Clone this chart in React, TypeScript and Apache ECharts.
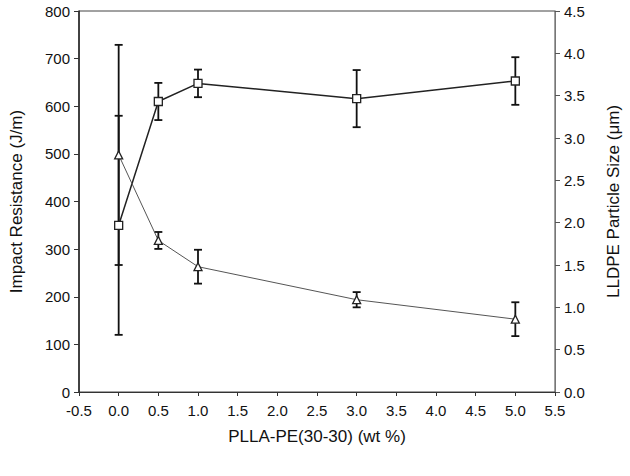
import React, { useEffect, useRef } from "react";
import * as echarts from "echarts";

const xValues = [0, 0.5, 1.0, 3.0, 5.0];
const impactResistance = [350, 610, 648, 616, 653];
const impactError = [230, 39, 29, 60, 50];
const particleSize = [2.8, 1.79, 1.48, 1.09, 0.86];
const particleError = [1.3, 0.1, 0.2, 0.09, 0.2];

const FONT = "Liberation Sans";

function errorItem(params: any, api: any) {
  const x = api.value(0);
  const lo = api.value(1);
  const hi = api.value(2);
  const pLo = api.coord([x, lo]);
  const pHi = api.coord([x, hi]);
  const hw = 4;
  const st = { stroke: "#111", lineWidth: 1.8 };
  return {
    type: "group",
    children: [
      { type: "line", shape: { x1: pLo[0], y1: pLo[1], x2: pHi[0], y2: pHi[1] }, style: st },
      { type: "line", shape: { x1: pLo[0] - hw, y1: pLo[1], x2: pLo[0] + hw, y2: pLo[1] }, style: st },
      { type: "line", shape: { x1: pHi[0] - hw, y1: pHi[1], x2: pHi[0] + hw, y2: pHi[1] }, style: st },
    ],
  };
}

export default function App() {
  const ref = useRef<HTMLDivElement>(null);
  useEffect(() => {
    if (!ref.current) return;
    const chart = echarts.init(ref.current, undefined, { renderer: "svg" });
    const fmt1 = (v: number) => v.toFixed(1);
    const axisLabelStyle = { fontFamily: FONT, fontSize: 15, color: "#111" };
    const titleStyle = { fontFamily: FONT, fontSize: 17, color: "#111" };
    chart.setOption({
      animation: false,
      backgroundColor: "#fff",
      grid: {
        left: 76,
        right: 75,
        top: 11,
        bottom: 84,
        show: true,
        borderColor: "#444",
        borderWidth: 1,
        backgroundColor: "transparent",
      },
      xAxis: {
        type: "value",
        min: -0.5,
        max: 5.5,
        interval: 0.5,
        name: "PLLA-PE(30-30) (wt %)",
        nameLocation: "middle",
        nameGap: 36,
        nameTextStyle: titleStyle,
        axisLine: { show: true, onZero: false, lineStyle: { color: "#333", width: 1 } },
        axisTick: { show: true, length: 4, lineStyle: { color: "#333" } },
        axisLabel: { ...axisLabelStyle, margin: 11, formatter: fmt1 },
        splitLine: { show: false },
      },
      yAxis: [
        {
          type: "value",
          min: 0,
          max: 800,
          interval: 100,
          position: "left",
          name: "Impact Resistance (J/m)",
          nameLocation: "middle",
          nameGap: 54,
          nameRotate: 90,
          nameTextStyle: titleStyle,
          axisLine: { show: true, onZero: false, lineStyle: { color: "#222", width: 1.5 } },
          axisTick: { show: true, length: 5, lineStyle: { color: "#333" } },
          axisLabel: { ...axisLabelStyle, margin: 9 },
          splitLine: { show: false },
        },
        {
          type: "value",
          min: 0,
          max: 4.5,
          interval: 0.5,
          position: "right",
          name: "LLDPE Particle Size (\u03bcm)",
          nameLocation: "middle",
          nameGap: 50,
          nameRotate: 90,
          nameTextStyle: titleStyle,
          axisLine: { show: true, onZero: false, lineStyle: { color: "#777", width: 1 } },
          axisTick: { show: true, length: 5, lineStyle: { color: "#555" } },
          axisLabel: { ...axisLabelStyle, margin: 9, formatter: fmt1 },
          splitLine: { show: false },
        },
      ],
      series: [
        {
          type: "custom",
          name: "Impact error",
          yAxisIndex: 0,
          z: 1,
          renderItem: errorItem,
          encode: { x: 0, y: [1, 2] },
          data: xValues.map((x, i) => [x, impactResistance[i] - impactError[i], impactResistance[i] + impactError[i]]),
        },
        {
          type: "custom",
          name: "Particle error",
          yAxisIndex: 1,
          z: 1,
          renderItem: errorItem,
          encode: { x: 0, y: [1, 2] },
          data: xValues.map((x, i) => [x, particleSize[i] - particleError[i], particleSize[i] + particleError[i]]),
        },
        {
          type: "line",
          name: "Impact Resistance",
          yAxisIndex: 0,
          z: 3,
          data: xValues.map((x, i) => [x, impactResistance[i]]),
          symbol: "rect",
          symbolSize: 8,
          itemStyle: { color: "#fff", borderColor: "#222", borderWidth: 1.3 },
          lineStyle: { color: "#222", width: 1.5 },
        },
        {
          type: "line",
          name: "LLDPE Particle Size",
          yAxisIndex: 1,
          z: 3,
          data: xValues.map((x, i) => [x, particleSize[i]]),
          symbol: "triangle",
          symbolSize: 8,
          itemStyle: { color: "#fff", borderColor: "#222", borderWidth: 1.3 },
          lineStyle: { color: "#555", width: 1 },
        },
      ],
    });
    return () => chart.dispose();
  }, []);
  return <div ref={ref} style={{ width: 630, height: 476, position: "absolute", left: 0, top: 0 }} />;
}
